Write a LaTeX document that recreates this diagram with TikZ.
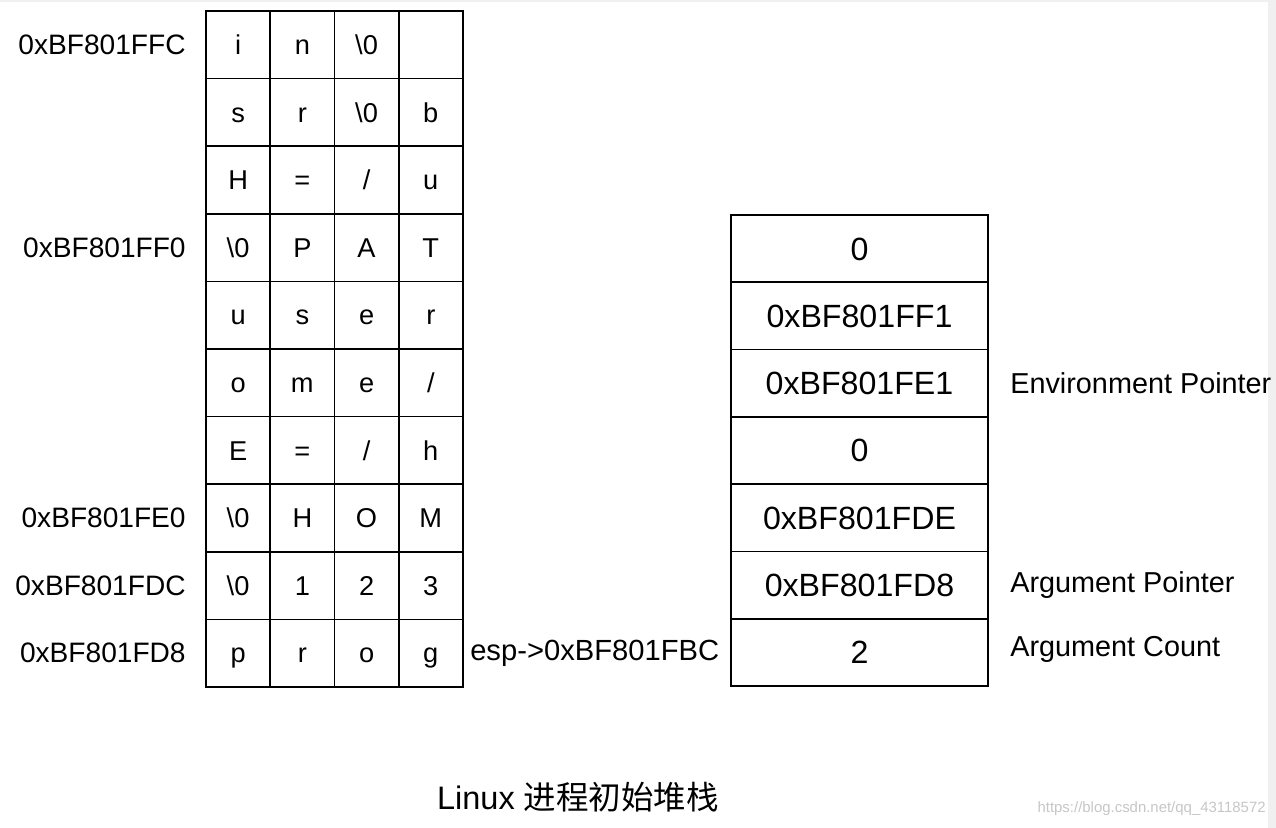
\documentclass[tikz,border=0pt]{standalone}
\usepackage{fontspec}
\setmainfont{Liberation Sans}
\newfontfamily\cjk{Noto Sans CJK SC}
\usetikzlibrary{positioning}
\newcommand{\nul}{\textbackslash 0}
\newcommand{\fsl}{/}

\begin{document}
\begin{tikzpicture}[x=0.02cm, y=-0.02cm,
  cell/.style = {draw, line width=1pt, outer sep=0pt, inner sep=0pt, minimum width=1.285cm, minimum height=1.352cm, text height=13pt, text depth=2pt, font=\fontsize{15.5}{18}\selectfont},
  slot/.style = {draw, line width=1pt, outer sep=0pt, inner sep=0pt, minimum width=5.14cm, minimum height=1.346cm, text height=15pt, text depth=2pt, font=\fontsize{18.3}{21}\selectfont},
  addr/.style = {inner sep=0pt, font=\fontsize{16}{19}\selectfont},
  note/.style = {inner sep=0pt, anchor=west, font=\fontsize{16.4}{19}\selectfont}]

\useasboundingbox (0,0) rectangle (1276,828);
\fill[gray!12] (1268,0) rectangle (1276,828);
\fill[gray!12] (0,0) rectangle (1268,2);

% string area
\foreach \r/\a/\b/\c/\d in {1/i/n/\nul/{}, 2/s/r/\nul/b, 3/H/=/\fsl/u, 4/\nul/P/A/T, 5/u/s/e/r, 6/o/m/e/\fsl, 7/E/=/\fsl/h, 8/\nul/H/O/M, 9/\nul/1/2/3, 10/p/r/o/g} {
  \node[cell] (c\r-1) at (238.1, {11 + 67.6*(\r-0.5)}) {\a};
  \node[cell, right=0pt of c\r-1] (c\r-2) {\b};
  \node[cell, right=0pt of c\r-2] (c\r-3) {\c};
  \node[cell, right=0pt of c\r-3] (c\r-4) {\d};
}

\node[addr, left=0.4cm of c1-1] (a1) {0xBF801FFC};
\node[addr, left=0.4cm of c4-1] (a4) {0xBF801FF0};
\node[addr, left=0.4cm of c8-1] (a8) {0xBF801FE0};
\node[addr, left=0.4cm of c9-1] (a9) {0xBF801FDC};
\node[addr, left=0.4cm of c10-1] (a10) {0xBF801FD8};
\node[addr, right=0.14cm of c10-4, font=\fontsize{16.6}{19}\selectfont] (esp) {esp->0xBF801FBC};

% pointer area
\node[slot] (s1) at (859.5, 248.6) {0};
\node[slot, below=0pt of s1] (s2) {0xBF801FF1};
\node[slot, below=0pt of s2] (s3) {0xBF801FE1};
\node[slot, below=0pt of s3] (s4) {0};
\node[slot, below=0pt of s4] (s5) {0xBF801FDE};
\node[slot, below=0pt of s5] (s6) {0xBF801FD8};
\node[slot, below=0pt of s6] (s7) {2};

\node[note, right=0.44cm of s3] (env) {Environment Pointer};
\node[note, right=0.44cm of s6] (argp) {Argument Pointer};
\node[note, right=0.44cm of s7, yshift=0.05cm] (argc) {Argument Count};

\node[font=\fontsize{18.5}{22}\selectfont] (title) at (578, 797) {Linux {\cjk 进程初始堆栈}};
\node[anchor=east, inner sep=0pt, text=gray!45, font=\fontsize{8.5}{10}\selectfont] (mark) at (1266, 809) {https://blog.csdn.net/qq\_43118572};
\end{tikzpicture}
\end{document}
